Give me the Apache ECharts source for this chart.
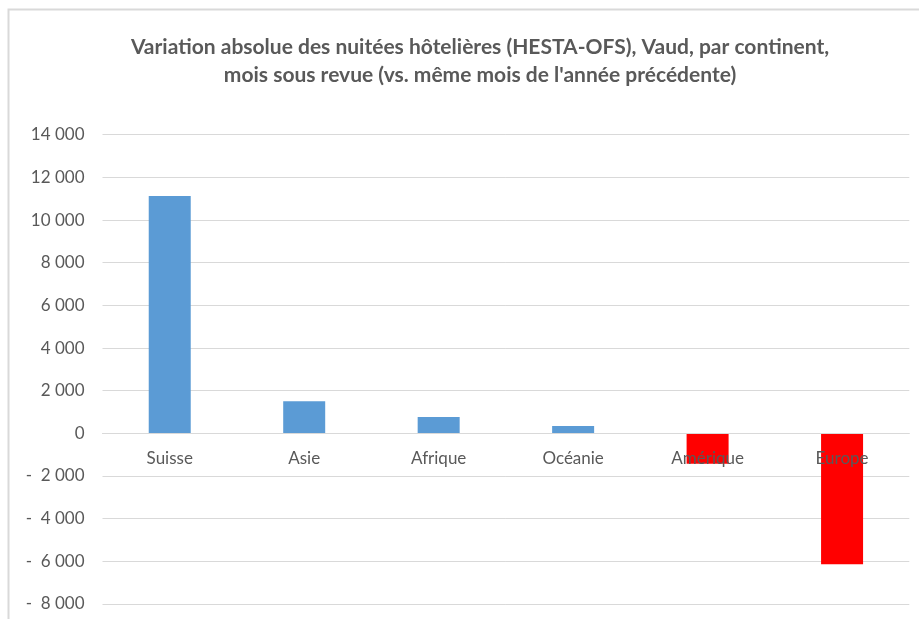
<!DOCTYPE html>
<html>
<head>
<meta charset="utf-8">
<script src="https://cdn.jsdelivr.net/npm/echarts@6/dist/echarts.min.js"></script>
<style>
  html, body { margin: 0; padding: 0; background: #fff; }
  #chart { width: 919px; height: 619px; }
</style>
</head>
<body>
<div id="chart"></div>
<script>
// continents and absolute change of hotel nights
var categories = ['Suisse', 'Asie', 'Afrique', 'Océanie', 'Amérique', 'Europe'];
var variation = [11130, 1500, 770, 350, -1430, -6140];
var yTicks = [-8000, -6000, -4000, -2000, 0, 2000, 4000, 6000, 8000, 10000, 12000, 14000];

var gridTop = 134.7, gridBottom = 15;
var plotH = 619 - gridTop - gridBottom;
var yMin = yTicks[0], yMax = yTicks[yTicks.length - 1];
// move the category axis up to the zero line
var zeroOffset = -(0 - yMin) / (yMax - yMin) * plotH;

var myChart = echarts.init(document.getElementById('chart'));

function fmt(v) {
    var s = String(Math.abs(v)).replace(/\B(?=(\d{3})+(?!\d))/g, ' ');
    return v < 0 ? '-  ' + s : s;
}

var option = {
    animation: false,
    textStyle: { fontFamily: 'Lato' },
    title: {
        text: 'Variation absolue des nuitées hôtelières (HESTA-OFS), Vaud, par continent,\nmois sous revue (vs. même mois de l\'année précédente)',
        left: 475,
        top: 28,
        textAlign: 'center',
        textStyle: {
            fontFamily: 'Lato',
            fontSize: 21,
            fontWeight: 'bold',
            color: '#595959',
            lineHeight: 28
        }
    },
    graphic: [{
        type: 'polyline',
        shape: { points: [[8.5, 619], [8.5, 9.5], [919, 9.5]] },
        style: { stroke: '#d9d9d9', lineWidth: 2, fill: null }
    }],
    grid: { left: 102.5, right: 9.7, top: gridTop, bottom: gridBottom, outerBoundsMode: 'none' },
    xAxis: {
        type: 'category',
        data: categories,
        z: 10,
        offset: zeroOffset,
        axisLine: { onZero: false, lineStyle: { color: '#d9d9d9' } },
        axisTick: { show: false },
        axisLabel: { color: '#595959', fontSize: 17, margin: 17 }
    },
    yAxis: {
        type: 'value',
        min: yMin,
        max: yMax,
        interval: 2000,
        axisLine: { show: false },
        axisTick: { show: false },
        splitLine: { lineStyle: { color: '#d9d9d9' } },
        axisLabel: { color: '#595959', fontSize: 17, margin: 18, formatter: fmt }
    },
    series: [{
        type: 'bar',
        data: variation,
        barWidth: 42,
        itemStyle: {
            color: function (p) { return p.value < 0 ? '#FF0000' : '#5B9BD5'; }
        }
    }]
};

option && myChart.setOption(option);
</script>
</body>
</html>
